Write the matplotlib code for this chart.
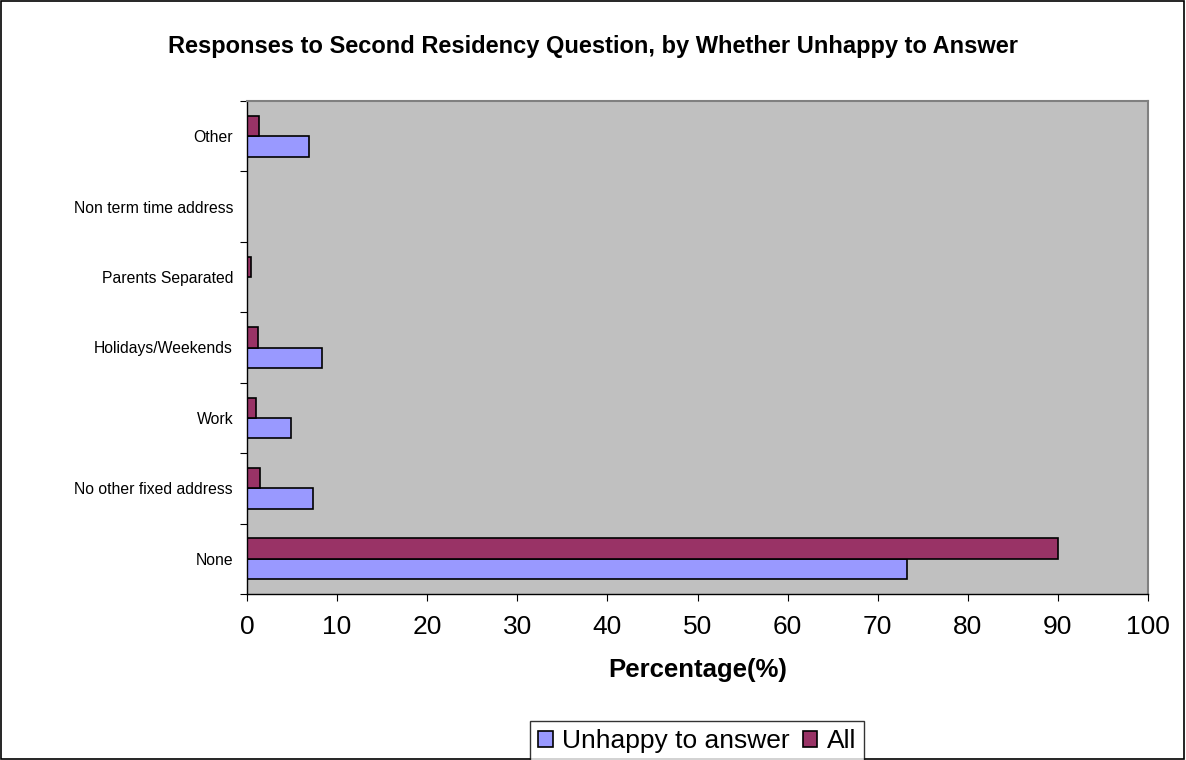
import matplotlib
matplotlib.use("Agg")
import matplotlib.pyplot as plt
import numpy as np

plt.rcParams['font.family'] = ['Liberation Sans', 'DejaVu Sans']

categories = ["None", "No other fixed address", "Work", "Holidays/Weekends",
              "Parents Separated", "Non term time address", "Other"]
unhappy = [73.2, 7.3, 4.9, 8.3, 0.0, 0.0, 6.9]
all_vals = [90.0, 1.4, 1.0, 1.2, 0.4, 0.0, 1.3]
xticks = [0, 10, 20, 30, 40, 50, 60, 70, 80, 90, 100]

fig = plt.figure(figsize=(11.86, 7.6), dpi=100)
fig.patch.set_facecolor('white')
ax = fig.add_axes([247/1186, 1-594/760, (1148-247)/1186, (594-101)/760])
ax.set_facecolor('#C0C0C0')

y = np.arange(len(categories))
h = 0.29
ax.barh(y - h/2, unhappy, height=h, color='#9999FF', edgecolor='black', linewidth=1.2, label='Unhappy to answer')
ax.barh(y + h/2, all_vals, height=h, color='#993366', edgecolor='black', linewidth=1.2, label='All')

ax.set_xlim(0, 100)
ax.set_ylim(-0.5, len(categories) - 0.5)
ax.set_xticks(xticks)
ax.set_xticklabels([str(t) for t in xticks], fontsize=19)
ax.set_yticks(np.arange(-0.5, len(categories), 1.0))
ax.set_yticklabels([])
ax.set_yticks(y, minor=True)
ax.set_yticklabels(categories, minor=True, fontsize=11.3)
ax.tick_params(axis='y', which='minor', length=0, pad=10)
ax.tick_params(axis='y', which='major', length=5, direction='out')
ax.tick_params(axis='x', length=5, direction='out', pad=10)

for s in ['top', 'right']:
    ax.spines[s].set_color('#808080')
    ax.spines[s].set_linewidth(1.5)
for s in ['left', 'bottom']:
    ax.spines[s].set_color('black')
    ax.spines[s].set_linewidth(1)

ax.set_xlabel('Percentage(%)', fontsize=18.5, fontweight='bold', labelpad=14)

fig.text(0.5, 1-46/760, 'Responses to Second Residency Question, by Whether Unhappy to Answer',
         ha='center', va='center', fontsize=17, fontweight='bold')

leg = fig.legend(loc='center', bbox_to_anchor=(697/1186, 1-741/760), ncol=2, fontsize=19,
                 frameon=True, fancybox=False, edgecolor='black', handlelength=0.55,
                 handleheight=0.55, handletextpad=0.35, columnspacing=0.5, borderpad=0.3)
leg.get_frame().set_linewidth(1)

# figure border
fig.add_artist(plt.Rectangle((0.0005, 0.001), 0.998, 0.998, transform=fig.transFigure,
                             fill=False, edgecolor='black', linewidth=1.2))

fig.savefig('out.png', dpi=100)
